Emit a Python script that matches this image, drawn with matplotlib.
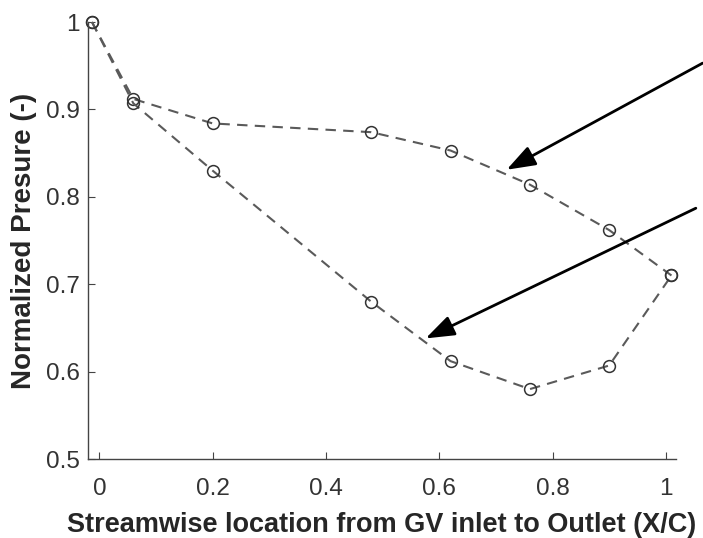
import matplotlib
matplotlib.use("Agg")
import matplotlib.pyplot as plt

plt.rcParams['font.family'] = ['Liberation Sans', 'DejaVu Sans']

# streamwise location (X/C)
x_loc = [-0.013, 0.06, 0.2, 0.48, 0.62, 0.76, 0.9, 1.01]
# normalized pressure, upper and lower branch
p_upper = [1.0, 0.912, 0.884, 0.874, 0.853, 0.814, 0.762, 0.71]
p_lower = [1.0, 0.907, 0.83, 0.68, 0.612, 0.58, 0.607, 0.71]

xticks = [0, 0.2, 0.4, 0.6, 0.8, 1]
yticks = [0.5, 0.6, 0.7, 0.8, 0.9, 1]

# arrows: (tail, head) in data units
arrows = [((1.065, 0.953), (0.719, 0.831)),
          ((1.053, 0.787), (0.576, 0.638))]

fig = plt.figure(figsize=(7.03, 5.38), dpi=100)
ax = fig.add_axes([0.1252, 0.1468, 0.8364, 0.8122])

for p in (p_upper, p_lower):
    ax.plot(x_loc, p, linestyle='--', color='#5a5a5a', linewidth=1.5,
            dashes=(5, 3.5), clip_on=False)
    ax.plot(x_loc, p, linestyle='none', marker='o', markersize=8.5,
            markerfacecolor='none', markeredgecolor='#333333',
            markeredgewidth=1.1, clip_on=False)

for tail, head in arrows:
    ax.annotate('', xy=head, xytext=tail, annotation_clip=False,
                arrowprops=dict(arrowstyle='-|>,head_length=0.7,head_width=0.25',
                                color='black', lw=2,
                                mutation_scale=25, shrinkA=0, shrinkB=0))

ax.set_xlim(-0.02, 1.018)
ax.set_ylim(0.5, 1.0)
ax.set_xticks(xticks)
ax.set_xticklabels(['0', '0.2', '0.4', '0.6', '0.8', '1'])
ax.set_yticks(yticks)
ax.set_yticklabels(['0.5', '0.6', '0.7', '0.8', '0.9', '1'])
ax.spines['top'].set_visible(False)
ax.spines['right'].set_visible(False)
for s in ('left', 'bottom'):
    ax.spines[s].set_color('#444444')
    ax.spines[s].set_linewidth(1.0)
ax.tick_params(direction='in', length=5, width=0.8, colors='#444444',
               labelsize=17.5, labelcolor='#333333', pad=6)
ax.tick_params(axis='x', pad=14)

ax.set_xlabel('Streamwise location from GV inlet to Outlet (X/C)',
              fontsize=19.5, fontweight='bold', color='#262626', labelpad=8)
ax.set_ylabel('Normalized Presure (-)', fontsize=20, fontweight='bold',
              color='#262626', labelpad=6)

fig.savefig('out.png', dpi=100)
